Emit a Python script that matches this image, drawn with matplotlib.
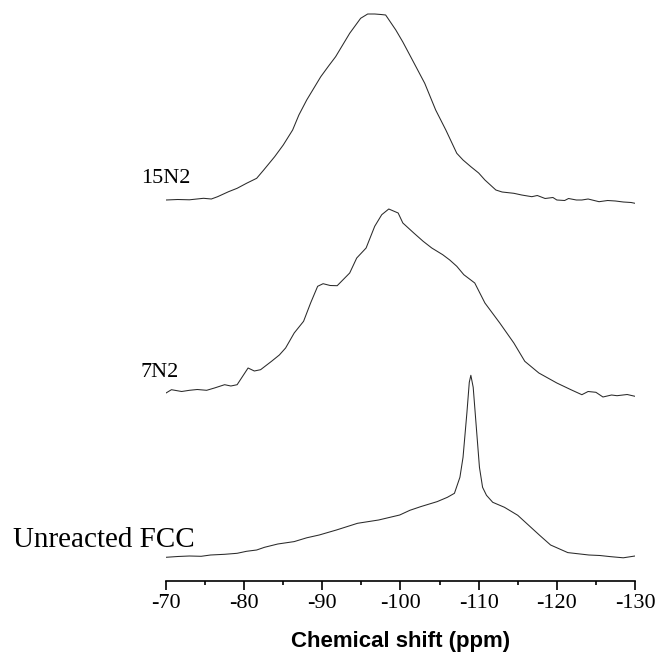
import numpy as np
import matplotlib.pyplot as plt

plt.rcParams['axes.unicode_minus'] = False  # plain hyphen minus signs like the original

# 29Si MAS NMR spectra (intensity in arbitrary units)
labels = ['15N2', '7N2', 'Unreacted FCC']

ppm_15n2 = [-70.0, -71.5, -73.0, -74.8, -75.8, -76.6, -78.0, -79.1, -80.3, -81.6,
            -82.5, -83.9, -85.0, -86.2, -87.0, -88.0, -89.8, -90.8, -91.7, -93.5,
            -94.9, -95.8, -96.7, -97.5, -98.1, -99.4, -100.3, -101.3, -103.1, -104.5,
            -105.8, -107.2, -108.0, -109.0, -110.0, -110.8, -112.2, -113.0, -114.5, -115.5,
            -116.8, -117.5, -118.5, -119.5, -120.0, -121.0, -121.5, -122.5, -123.2, -124.0,
            -125.4, -126.5, -127.5, -128.5, -129.5, -130.0]
int_15n2 = [0, 0.5, 0.2, 1.7, 1.0, 3.3, 8.3, 11.7, 16.7, 21.7,
            30, 43.3, 55, 70, 85, 100, 123.3, 134, 143.3, 166.7,
            181.7, 186, 186, 185.5, 185, 170, 158, 143.3, 116.7, 90,
            70, 46.7, 40, 33.3, 27, 20, 10, 8, 6.7, 5,
            3.3, 4.5, 1.5, 2.5, 0, -0.5, 1.5, 0, 0, 1,
            -1.7, -0.5, -1.0, -2.0, -2.5, -3.3]

ppm_7n2 = [-70.0, -70.7, -72.0, -73.0, -74.0, -75.2, -76.2, -77.5, -78.3, -79.1,
           -80.5, -81.3, -82.1, -83.5, -84.5, -85.3, -86.4, -87.6, -88.5, -89.4,
           -90.1, -91.0, -91.9, -93.5, -94.4, -95.6, -96.7, -97.6, -98.5, -99.7,
           -100.3, -101.7, -102.9, -104.0, -105.4, -106.3, -107.2, -108.1, -109.5, -110.8,
           -112.7, -114.5, -115.9, -117.7, -120.0, -121.8, -123.2, -124.0, -125.0, -125.9,
           -127.0, -127.7, -129.0, -130.0]
int_7n2 = [0, 3.3, 1.5, 2.7, 3.5, 2.7, 5, 8.3, 7.0, 8.3,
           25, 22, 23.3, 31.7, 38, 45, 60, 71.7, 90, 106.7,
           109.3, 107.5, 107.3, 120, 135, 145, 166.7, 178.3, 184, 180,
           170, 160, 151.7, 145, 138.3, 133, 126.7, 118.3, 110, 90,
           70, 50, 31.7, 20, 10, 3.3, -1.7, 1.5, 0.7, -4,
           -2.0, -2.7, -1.5, -3.3]

ppm_fcc = [-70.0, -71.5, -73.0, -74.5, -75.7, -77.5, -79.1, -80.3, -81.6, -82.6,
           -84.3, -86.4, -88.0, -89.6, -91.8, -94.5, -97.2, -99.9, -101.2, -102.6,
           -104.7, -106.0, -106.9, -107.6, -108.0, -108.5, -108.8, -109.0, -109.3, -109.7,
           -110.1, -110.5, -111.0, -111.8, -113.3, -115.0, -117.1, -117.8, -119.2, -121.4,
           -124.1, -125.5, -126.8, -128.5, -130.0]
int_fcc = [0, 0.8, 1.3, 1.0, 2.3, 3.0, 4, 6.0, 7.3, 10,
           13.3, 15.7, 19.5, 22.3, 27.3, 34, 37.3, 42.3, 47.0, 50.7,
           55.7, 60, 64, 80, 100, 145, 175, 182, 170, 130,
           90, 70, 62, 55, 50, 42, 27, 22, 12.3, 4.7,
           2.3, 1.8, 0.7, -0.5, 1.3]

# vertical stacking offsets
offsets = [381, 188, 23.7]

fig = plt.figure(figsize=(6.6, 6.65), dpi=100)
ax = fig.add_axes([166 / 660, 1 - 581 / 665, (635 - 166) / 660, 581 / 665])

for ppm, inten, off in zip([ppm_15n2, ppm_7n2, ppm_fcc],
                           [int_15n2, int_7n2, int_fcc], offsets):
    ax.plot(ppm, np.array(inten) + off, color='#2a2a2a', lw=0.75)

ax.set_xlim(-70, -130)
ax.set_ylim(0, 581)

# only the bottom axis is shown
for side in ['left', 'right', 'top']:
    ax.spines[side].set_visible(False)
ax.spines['bottom'].set_linewidth(1.2)
ax.set_yticks([])
ax.set_xticks(np.arange(-70, -131, -10))
ax.set_xticks(np.arange(-75, -130, -10), minor=True)
ax.tick_params(axis='x', which='major', direction='out', length=6.5, width=1.2, pad=3)
ax.tick_params(axis='x', which='minor', direction='out', length=3.2, width=1.2)
for lab in ax.get_xticklabels():
    lab.set_fontfamily('Liberation Serif')
    lab.set_fontsize(16)

ax.set_xlabel('Chemical shift (ppm)', fontfamily='Liberation Sans', fontweight='bold',
              fontsize=16, labelpad=13)

# sample labels
fig.text(141 / 660, 1 - 183.3 / 665, labels[0], family='Liberation Serif', fontsize=16,
         va='baseline', ha='left')
fig.text(140 / 660, 1 - 377 / 665, labels[1], family='Liberation Serif', fontsize=16,
         va='baseline', ha='left')
fig.text(13 / 660, 1 - 546.7 / 665, labels[2], family='Liberation Serif', fontsize=21,
         va='baseline', ha='left')

fig.savefig('out.png', dpi=100)
plt.close(fig)
